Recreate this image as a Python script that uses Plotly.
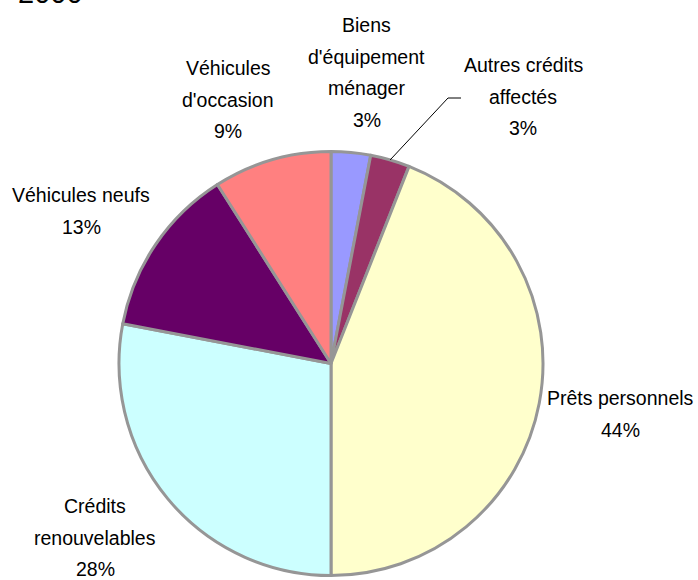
import math
import plotly.graph_objects as go

# Consumer credit breakdown by type (%)
categories = [
    "Biens d'équipement ménager",
    "Autres crédits affectés",
    "Prêts personnels",
    "Crédits renouvelables",
    "Véhicules neufs",
    "Véhicules d'occasion",
]
values = [3, 3, 44, 28, 13, 9]
label_lines = [
    ["Biens", "d'équipement", "ménager"],
    ["Autres crédits", "affectés"],
    ["Prêts personnels"],
    ["Crédits", "renouvelables"],
    ["Véhicules neufs"],
    ["Véhicules", "d'occasion"],
]
year_label = "2000"

slice_colors = ["#9999FF", "#993366", "#FFFFCC", "#CCFFFF", "#660066", "#FF8080"]

W, H = 698, 580
FONT = "Liberation Sans, Arial, sans-serif"
FS = 19.5
LINE_GAP = 31.5

# pie geometry in pixels
CX, CY, R = 331, 363.5, 212


def px(x):
    return x / W


def py(y):
    return 1 - y / H


fig = go.Figure(
    go.Pie(
        labels=categories,
        values=values,
        sort=False,
        direction="clockwise",
        rotation=0,
        textinfo="none",
        hoverinfo="label+percent",
        marker=dict(colors=slice_colors, line=dict(color="#969696", width=3)),
        domain=dict(x=[px(CX - R), px(CX + R)], y=[py(CY + R), py(CY - R)]),
        showlegend=False,
    )
)

# label placement: (centre x, baseline of first line), in pixels
label_pos = [
    (367, 32),
    (523, 72),
    (620, 405),
    (95, 513),
    (81, 202),
    (228, 75),
]

annotations = []
for lines, v, (lx, ly) in zip(label_lines, values, label_pos):
    for i, txt in enumerate(lines + [f"{v}%"]):
        base = ly + i * LINE_GAP
        annotations.append(
            dict(
                text=txt,
                x=px(lx),
                y=py(base - 0.35 * FS),
                xref="paper",
                yref="paper",
                xanchor="center",
                yanchor="middle",
                showarrow=False,
                font=dict(family=FONT, size=FS, color="#000000"),
            )
        )

# year heading in the top-left corner
annotations.append(
    dict(
        text=year_label,
        x=px(16),
        y=py(3 - 0.35 * 29),
        xref="paper",
        yref="paper",
        xanchor="left",
        yanchor="middle",
        showarrow=False,
        font=dict(family=FONT, size=29, color="#000000"),
    )
)

# leader line from the middle of the "Autres crédits affectés" slice
start_frac = (values[0] + values[1] / 2) / sum(values)
theta = start_frac * 2 * math.pi
sx = CX + R * math.sin(theta)
sy = CY - R * math.cos(theta)
leader = dict(
    type="path",
    xref="paper",
    yref="paper",
    path=f"M {px(sx)} {py(sy)} L {px(448)} {py(98)} L {px(461)} {py(98)}",
    line=dict(color="#000000", width=1),
)

fig.update_layout(
    width=W,
    height=H,
    autosize=False,
    margin=dict(l=0, r=0, t=0, b=0),
    paper_bgcolor="#FFFFFF",
    plot_bgcolor="#FFFFFF",
    annotations=annotations,
    shapes=[leader],
)

fig.write_html("out.html")
